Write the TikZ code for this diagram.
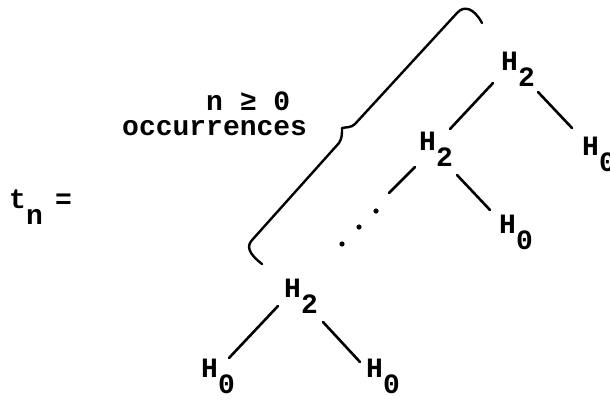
\documentclass[tikz,border=0pt]{standalone}
\usepackage{fontspec}
\setmainfont{Liberation Mono}
\tikzset{
  lbl/.style={inner sep=0pt, anchor=base west, font=\fontsize{28}{30}\selectfont\bfseries},
  edge/.style={line width=2.6pt, line cap=round},
  brace/.style={line width=2.4pt, line cap=round, line join=round},
  dotmark/.style={fill=black, draw=none}
}
\newcommand{\sub}[1]{\raisebox{-16pt}{#1}}
\begin{document}
\begin{tikzpicture}[x=1pt,y=-1pt]
\useasboundingbox (0,0) rectangle (610,399);
% labels
\node[lbl] (tn) at (9,208) {t\sub{n}};
\node[lbl] (eq) at (55,208) {=};
\node[lbl] (ngeq) at (206,110) {n ≥ 0};
\node[lbl] (occ) at (122,135) {occurrences};
% tree nodes
\node[lbl] (top) at (501,70) {H\sub{2}};
\node[lbl] (rh) at (582,155) {H\sub{0}};
\node[lbl] (mid) at (419,150) {H\sub{2}};
\node[lbl] (mh) at (499,233) {H\sub{0}};
\node[lbl] (bot) at (284,297) {H\sub{2}};
\node[lbl] (bl) at (201,377) {H\sub{0}};
\node[lbl] (br) at (366,377) {H\sub{0}};
\coordinate (cont) at (389,193);
% connectors
\draw[edge] ([shift={(-8,13)}]top.base west) -- ([shift={(31,-21)}]mid.base west);
\draw[edge] ([shift={(37,22)}]top.base west) -- ([shift={(-10,-27)}]rh.base west);
\draw[edge] ([shift={(-4,17)}]mid.base west) -- (cont);
\draw[edge] ([shift={(38,25)}]mid.base west) -- ([shift={(-9,-23)}]mh.base west);
\draw[edge] ([shift={(-6,9)}]bot.base west) -- ([shift={(28,-19)}]bl.base west);
\draw[edge] ([shift={(39,25)}]bot.base west) -- ([shift={(-6,-15)}]br.base west);
% dots
\fill[dotmark] (342,244) circle (2.6);
\fill[dotmark] (359,227) circle (2.6);
\fill[dotmark] (376,211) circle (2.6);
% brace
\draw[brace] (482,23) .. controls (474,8) and (464,5) .. (457,13)
  -- (355,124) .. controls (351,128) and (346,127) .. (342,128)
  .. controls (342,135) and (342,138) .. (339,143)
  -- (253,239) .. controls (246,246) and (248,253) .. (262,264);
\end{tikzpicture}
\end{document}
